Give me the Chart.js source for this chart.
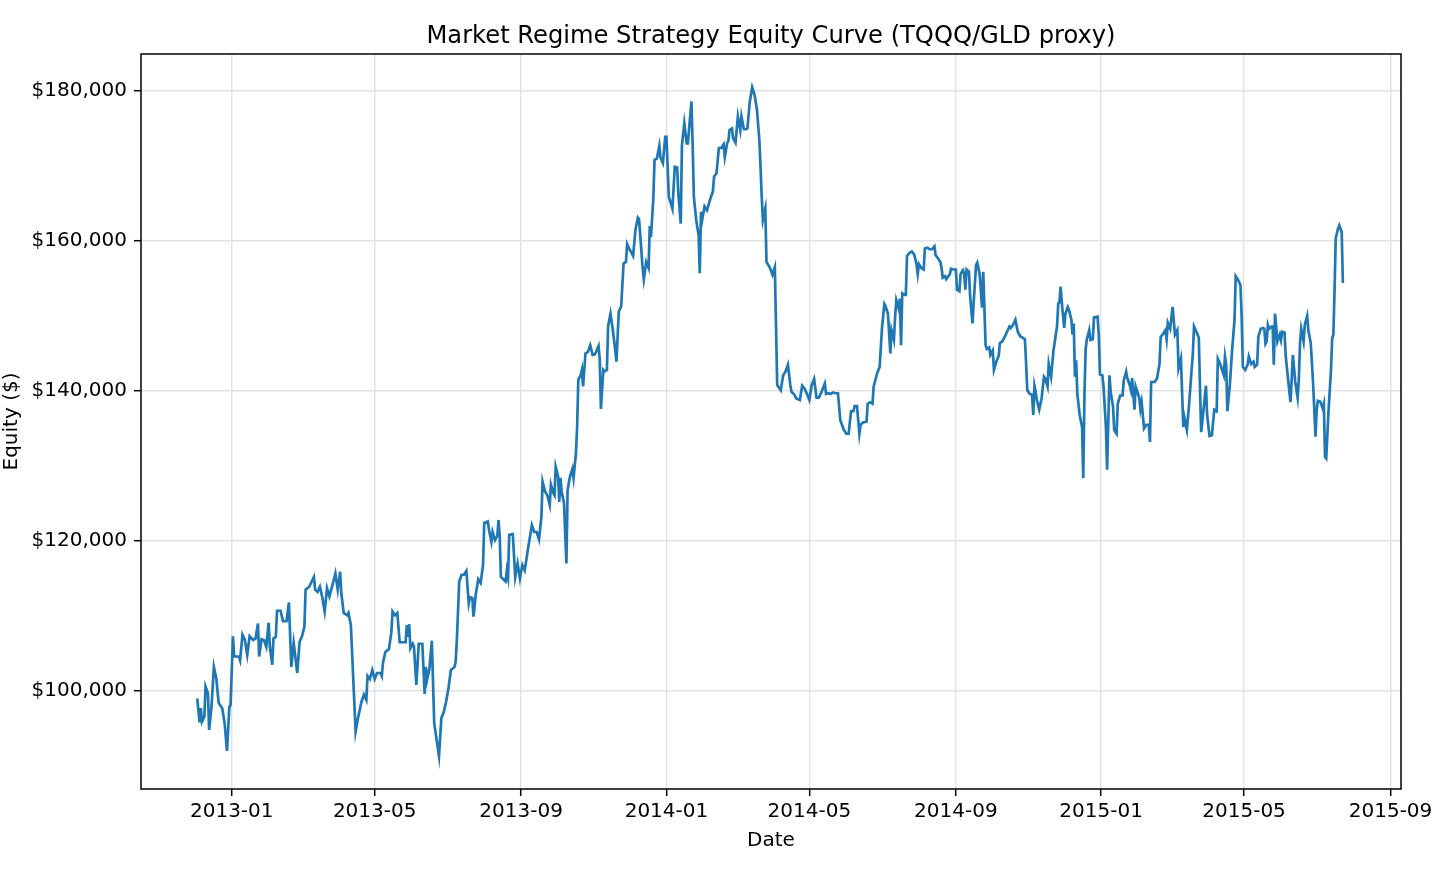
<!DOCTYPE html>
<html>
<head>
<meta charset="utf-8">
<title>Market Regime Strategy Equity Curve</title>
<script src="https://cdn.jsdelivr.net/npm/chart.js@4.4.1/dist/chart.umd.min.js"></script>
<style>
  html, body { margin: 0; padding: 0; background: #fff; }
  #wrap { width: 1456px; height: 874px; }
</style>
</head>
<body>
<div id="wrap"><canvas id="equity-chart" width="1456" height="874"></canvas></div>
<script>
// Equity curve, values
var dates = [
  "2012-12-03","2012-12-05","2012-12-06","2012-12-07","2012-12-09","2012-12-10","2012-12-12","2012-12-13","2012-12-15","2012-12-17","2012-12-19","2012-12-21","2012-12-24","2012-12-26","2012-12-28","2012-12-30","2012-12-31",
  "2013-01-02","2013-01-03","2013-01-07","2013-01-08","2013-01-10","2013-01-12","2013-01-14","2013-01-16","2013-01-19","2013-01-21","2013-01-23","2013-01-24","2013-01-26","2013-01-28","2013-01-30",
  "2013-02-01","2013-02-02","2013-02-04","2013-02-05","2013-02-07","2013-02-08","2013-02-11","2013-02-13","2013-02-16","2013-02-18","2013-02-20","2013-02-22","2013-02-25","2013-02-27",
  "2013-03-01","2013-03-03","2013-03-04","2013-03-07","2013-03-11","2013-03-12","2013-03-14","2013-03-16","2013-03-18","2013-03-20","2013-03-22","2013-03-24","2013-03-27","2013-03-29","2013-03-31",
  "2013-04-02","2013-04-03","2013-04-05","2013-04-08","2013-04-09","2013-04-11","2013-04-15","2013-04-17","2013-04-20","2013-04-22","2013-04-24","2013-04-25","2013-04-27","2013-04-29",
  "2013-05-01","2013-05-03","2013-05-06","2013-05-07","2013-05-08","2013-05-10","2013-05-13","2013-05-15","2013-05-16","2013-05-18","2013-05-20","2013-05-22","2013-05-27","2013-05-28","2013-05-29","2013-05-30","2013-05-31",
  "2013-06-02","2013-06-03","2013-06-05","2013-06-07","2013-06-10","2013-06-12","2013-06-13","2013-06-14","2013-06-16","2013-06-18","2013-06-20","2013-06-24","2013-06-26","2013-06-28","2013-06-30",
  "2013-07-01","2013-07-02","2013-07-04","2013-07-07","2013-07-08","2013-07-09","2013-07-11","2013-07-13","2013-07-15","2013-07-17","2013-07-19","2013-07-20","2013-07-22","2013-07-23","2013-07-25","2013-07-27","2013-07-29","2013-07-31",
  "2013-08-01","2013-08-04","2013-08-05","2013-08-07","2013-08-08","2013-08-10","2013-08-12","2013-08-13","2013-08-14","2013-08-15","2013-08-17","2013-08-19","2013-08-20","2013-08-21","2013-08-22","2013-08-25","2013-08-27","2013-08-29","2013-08-31",
  "2013-09-02","2013-09-04","2013-09-07","2013-09-10","2013-09-12","2013-09-14","2013-09-16","2013-09-18","2013-09-19","2013-09-21","2013-09-23","2013-09-25","2013-09-26","2013-09-28","2013-09-29","2013-09-30",
  "2013-10-02","2013-10-03","2013-10-04","2013-10-05","2013-10-07","2013-10-09","2013-10-10","2013-10-12","2013-10-14","2013-10-15","2013-10-17","2013-10-18","2013-10-19","2013-10-21","2013-10-22","2013-10-23","2013-10-25","2013-10-27","2013-10-29","2013-10-31",
  "2013-11-02","2013-11-05","2013-11-06","2013-11-07","2013-11-09","2013-11-10","2013-11-12","2013-11-13","2013-11-15","2013-11-17","2013-11-19","2013-11-20","2013-11-22","2013-11-24","2013-11-26","2013-11-28","2013-11-29",
  "2013-12-01","2013-12-04","2013-12-06","2013-12-08","2013-12-09","2013-12-12","2013-12-13","2013-12-15","2013-12-17","2013-12-18","2013-12-19","2013-12-21","2013-12-22","2013-12-24","2013-12-26","2013-12-27","2013-12-29","2013-12-31",
  "2014-01-01","2014-01-03","2014-01-06","2014-01-08","2014-01-10","2014-01-11","2014-01-13","2014-01-14","2014-01-16","2014-01-18","2014-01-19","2014-01-22","2014-01-23","2014-01-24","2014-01-26","2014-01-28","2014-01-29","2014-01-30","2014-01-31",
  "2014-02-02","2014-02-04","2014-02-05","2014-02-07","2014-02-09","2014-02-10","2014-02-12","2014-02-14","2014-02-16","2014-02-18","2014-02-19","2014-02-21","2014-02-22","2014-02-23","2014-02-25","2014-02-26","2014-02-28",
  "2014-03-02","2014-03-04","2014-03-05","2014-03-07","2014-03-09","2014-03-10","2014-03-12","2014-03-14","2014-03-16","2014-03-18","2014-03-20","2014-03-21","2014-03-22","2014-03-23","2014-03-25","2014-03-26","2014-03-29","2014-03-31",
  "2014-04-02","2014-04-04","2014-04-07","2014-04-09","2014-04-11","2014-04-13","2014-04-15","2014-04-16","2014-04-18","2014-04-20","2014-04-23","2014-04-25","2014-04-27","2014-04-29",
  "2014-05-01","2014-05-03","2014-05-05","2014-05-07","2014-05-09","2014-05-11","2014-05-14","2014-05-15","2014-05-17","2014-05-19","2014-05-21","2014-05-23","2014-05-25","2014-05-27","2014-05-30",
  "2014-06-01","2014-06-03","2014-06-05","2014-06-07","2014-06-08","2014-06-10","2014-06-12","2014-06-13","2014-06-15","2014-06-18","2014-06-19","2014-06-21","2014-06-23","2014-06-24","2014-06-27","2014-06-29",
  "2014-07-01","2014-07-03","2014-07-04","2014-07-06","2014-07-08","2014-07-09","2014-07-11","2014-07-12","2014-07-13","2014-07-15","2014-07-16","2014-07-17","2014-07-18","2014-07-20","2014-07-21","2014-07-22","2014-07-24","2014-07-26","2014-07-28","2014-07-30","2014-07-31",
  "2014-08-01","2014-08-03","2014-08-05","2014-08-06","2014-08-08","2014-08-10","2014-08-12","2014-08-14","2014-08-15","2014-08-17","2014-08-19","2014-08-20","2014-08-21","2014-08-23","2014-08-24","2014-08-27","2014-08-28","2014-08-30",
  "2014-09-01","2014-09-02","2014-09-04","2014-09-05","2014-09-07","2014-09-08","2014-09-09","2014-09-10","2014-09-12","2014-09-13","2014-09-15","2014-09-16","2014-09-18","2014-09-19","2014-09-21","2014-09-23","2014-09-24","2014-09-26","2014-09-27","2014-09-29","2014-09-30",
  "2014-10-02","2014-10-03","2014-10-05","2014-10-07","2014-10-08","2014-10-10","2014-10-12","2014-10-14","2014-10-16","2014-10-17","2014-10-19","2014-10-21","2014-10-23","2014-10-25","2014-10-27","2014-10-29","2014-10-30","2014-10-31",
  "2014-11-02","2014-11-04","2014-11-05","2014-11-06","2014-11-07","2014-11-08","2014-11-10","2014-11-12","2014-11-14","2014-11-15","2014-11-17","2014-11-18","2014-11-20","2014-11-22","2014-11-24","2014-11-25","2014-11-26","2014-11-27","2014-11-28","2014-11-29",
  "2014-12-01","2014-12-02","2014-12-04","2014-12-05","2014-12-07","2014-12-08","2014-12-09","2014-12-10","2014-12-11","2014-12-12","2014-12-14","2014-12-16","2014-12-17","2014-12-18","2014-12-19","2014-12-20","2014-12-22","2014-12-23","2014-12-25","2014-12-26","2014-12-29","2014-12-30","2014-12-31",
  "2015-01-02","2015-01-03","2015-01-04","2015-01-05","2015-01-06","2015-01-08","2015-01-09","2015-01-11","2015-01-12","2015-01-14","2015-01-15","2015-01-17","2015-01-19","2015-01-20","2015-01-22","2015-01-23","2015-01-25","2015-01-26","2015-01-27","2015-01-28","2015-01-29","2015-01-30","2015-01-31",
  "2015-02-02","2015-02-03","2015-02-04","2015-02-06","2015-02-08","2015-02-10","2015-02-11","2015-02-12","2015-02-15","2015-02-17","2015-02-19","2015-02-20","2015-02-22","2015-02-24","2015-02-25","2015-02-26","2015-02-28",
  "2015-03-02","2015-03-04","2015-03-06","2015-03-07","2015-03-09","2015-03-11","2015-03-12","2015-03-14","2015-03-16","2015-03-17","2015-03-19","2015-03-20","2015-03-22","2015-03-24","2015-03-25","2015-03-26","2015-03-28","2015-03-30","2015-03-31",
  "2015-04-02","2015-04-04","2015-04-06","2015-04-08","2015-04-09","2015-04-11","2015-04-14","2015-04-15","2015-04-16","2015-04-17","2015-04-19","2015-04-21","2015-04-23","2015-04-24","2015-04-26","2015-04-28","2015-04-29","2015-04-30",
  "2015-05-02","2015-05-04","2015-05-05","2015-05-07","2015-05-09","2015-05-10","2015-05-12","2015-05-13","2015-05-15","2015-05-17","2015-05-18","2015-05-19","2015-05-20","2015-05-21","2015-05-22","2015-05-24","2015-05-25","2015-05-26","2015-05-27","2015-05-28","2015-05-29","2015-05-31",
  "2015-06-01","2015-06-02","2015-06-04","2015-06-05","2015-06-07","2015-06-09","2015-06-10","2015-06-11","2015-06-13","2015-06-15","2015-06-16","2015-06-17","2015-06-18","2015-06-20","2015-06-21","2015-06-23","2015-06-24","2015-06-26","2015-06-28","2015-06-30",
  "2015-07-01","2015-07-02","2015-07-04","2015-07-06","2015-07-07","2015-07-08","2015-07-09","2015-07-11","2015-07-13","2015-07-14","2015-07-15","2015-07-16","2015-07-17","2015-07-19","2015-07-20","2015-07-22","2015-07-23"
];

var equity = [
  99000,95800,97700,95900,96600,100600,99700,94800,97900,103200,101700,98400,97700,95700,92000,97900,98100,
  107300,104600,104600,104100,107500,106800,104800,107300,106800,107000,109000,104600,106900,106800,105900,
  109100,105900,103500,107000,107200,110700,110700,109300,109300,111800,103200,106400,102400,106600,
  107300,108600,113500,113900,115200,113500,113200,113900,112500,110600,113700,112600,114400,115700,113500,
  115900,113000,110400,110100,110400,108800,94600,96400,98600,99500,98800,102000,101600,102800,
  101600,102400,102400,102000,103800,105200,105600,107800,110600,110100,110400,106500,106500,108800,107200,108900,105700,
  106300,105900,100800,106300,106300,99600,103200,101500,103000,106700,95700,91300,96400,97200,98600,
  99500,100400,102800,103200,103900,106800,114600,115500,115500,116000,111700,112500,112400,109900,113000,114900,114400,116800,
  122400,122600,121500,119900,121200,120100,120700,122800,120600,115200,114900,114600,116100,115200,120800,120900,115200,117000,115000,
  116800,116100,119200,122100,121200,121200,120200,123200,127900,126600,126100,124800,127500,126400,126100,129900,
  128600,125200,128400,126600,125000,117000,126800,128600,129600,128400,131700,135200,141500,142100,142800,140600,145000,145200,146100,144800,
  144900,146000,144200,137600,142800,142600,142800,148600,150300,148100,145500,143900,150600,151300,157000,157200,159600,
  158900,158000,161500,163100,162900,156400,154900,157200,156400,162000,160500,165700,170800,171000,172700,171100,170400,173900,
  173900,165900,164300,169900,169800,166300,162300,172700,175700,173000,173000,178600,172900,165900,162800,160800,155700,163900,162800,
  164600,164100,164600,165700,166600,168600,169000,172400,172400,172900,171200,173100,173300,174800,175000,173700,173100,
  176600,174800,176600,174900,174900,175000,178600,180500,179500,177500,173500,169900,165900,162800,164300,157200,156400,155500,
  156500,140800,140100,142100,142600,143500,140800,139900,139600,139000,138800,140700,140300,139600,
  138800,140800,141600,139100,139100,139800,141000,139600,139700,139600,139800,139700,139700,136100,134800,
  134300,134300,137300,137300,138000,138000,134300,135500,135800,135900,138300,138500,138300,140600,142400,143200,
  148400,151600,151300,150300,145000,148100,146800,149900,152100,151000,152300,146100,153000,152800,152800,158000,158400,158600,158200,156900,155600,
  156900,156400,156200,159000,159100,158900,158900,159300,158100,157700,157200,156400,155100,155300,154900,155600,156300,156200,
  156200,153500,153300,155600,156100,155600,153500,156200,155900,152600,149000,151900,156800,157100,155600,151100,155900,146100,145600,145800,144800,
  145400,142800,143900,144700,146400,146600,147200,147900,148600,148400,148800,149500,147900,147300,147100,146900,143600,140100,
  139600,139500,136800,140700,139900,138800,137500,139000,141900,141700,140600,143600,141900,145400,147600,148600,151700,151800,153900,151700,
  148400,150300,151200,150800,149500,147500,149000,141900,144100,139600,136800,135200,128400,139600,145600,146900,148100,146800,146900,149800,149900,147600,142200,
  142100,140600,137900,135200,129500,142100,139900,137900,134800,134300,138300,139400,139400,141400,142600,141700,140800,140100,141700,139600,137500,140600,140100,
  139100,137600,138500,135000,135500,135500,133200,141200,141200,141700,143600,147200,147600,148100,146900,149100,148300,
  151200,147500,148100,143000,144300,135200,136400,134800,138500,140700,145000,148600,147900,147100,140600,134500,137500,140700,136800,
  134000,134100,137500,137300,144300,143600,142100,144600,143500,137300,140600,145500,149500,155300,154800,154100,149900,143200,
  142800,143500,144600,143600,143900,143200,143500,147200,148300,148400,148300,146300,146600,148800,148300,148600,148600,143500,150300,148600,146600,147500,
  146800,147900,147800,144600,141500,138500,141500,144800,141200,139100,141500,146400,148300,146600,148800,150000,148100,146400,141000,133900,
  137500,138700,138600,137700,138300,131200,131000,137500,142800,147000,147500,153500,160400,161700,162100,161200,154400
];

// Axis ticks and limits
var xTickLabels = ["2013-01", "2013-05", "2013-09", "2014-01", "2014-05", "2014-09", "2015-01", "2015-05", "2015-09"];
var yTickValues = [100000, 120000, 140000, 160000, 180000];
var xLimits = ["2012-10-16T19:00:00Z", "2015-09-09T19:00:00Z"];
var yLimits = [86930, 184930];
var chartTitle = "Market Regime Strategy Equity Curve (TQQQ/GLD proxy)";

function toTime(s) {
  if (s.length === 7) s = s + "-01";
  return Date.parse(s);
}

var xTickTimes = xTickLabels.map(toTime);

var points = dates.map(function (d, i) {
  return { x: toTime(d), y: equity[i] };
});

Chart.defaults.font.family = "'DejaVu Sans', sans-serif";
Chart.defaults.font.size = 20;
Chart.defaults.color = "#000";

// Black box round the plot area, and the title centred over it
var framePlugin = {
  id: "frame",
  afterDatasetsDraw: function (chart) {
    var a = chart.chartArea;
    var ctx = chart.ctx;
    ctx.save();
    ctx.strokeStyle = "#000";
    ctx.lineWidth = 1.5;
    ctx.strokeRect(a.left, a.top, a.right - a.left, a.bottom - a.top);
    ctx.restore();
  },
  afterDraw: function (chart) {
    var a = chart.chartArea;
    var ctx = chart.ctx;
    ctx.save();
    ctx.fillStyle = "#000";
    ctx.font = "24.2px 'DejaVu Sans', sans-serif";
    ctx.textAlign = "center";
    ctx.textBaseline = "alphabetic";
    ctx.fillText(chartTitle, (a.left + a.right) / 2, 42.5);
    ctx.restore();
  }
};

var ctx = document.getElementById("equity-chart");

var equityChart = new Chart(ctx, {
  type: "line",
  data: {
    datasets: [{
      label: "Equity",
      data: points,
      borderColor: "#1f77b4",
      borderWidth: 2.7,
      pointRadius: 0,
      tension: 0,
      fill: false
    }]
  },
  options: {
    responsive: false,
    animation: false,
    devicePixelRatio: 1,
    layout: { padding: { left: 0, right: 55, top: 54, bottom: 0 } },
    plugins: {
      legend: { display: false },
      tooltip: { enabled: false },
      title: { display: false }
    },
    scales: {
      x: {
        type: "linear",
        min: Date.parse(xLimits[0]),
        max: Date.parse(xLimits[1]),
        afterBuildTicks: function (axis) {
          axis.ticks = xTickTimes.map(function (t) { return { value: t }; });
        },
        afterFit: function (axis) { axis.height = 85; },
        ticks: {
          autoSkip: false,
          maxRotation: 0,
          padding: 4,
          callback: function (value) {
            var i = xTickTimes.indexOf(value);
            return i >= 0 ? xTickLabels[i] : "";
          }
        },
        grid: {
          color: "#e0e2e4",
          lineWidth: 1.4,
          tickLength: 7,
          tickColor: "#000",
          tickWidth: 1.5
        },
        border: { display: false },
        title: {
          display: true,
          text: "Date",
          padding: { top: 0, bottom: 21 }
        }
      },
      y: {
        type: "linear",
        min: yLimits[0],
        max: yLimits[1],
        afterBuildTicks: function (axis) {
          axis.ticks = yTickValues.map(function (v) { return { value: v }; });
        },
        afterFit: function (axis) { axis.width = 141; },
        ticks: {
          padding: 7,
          callback: function (value) {
            return "$" + value.toLocaleString("en-US");
          }
        },
        grid: {
          color: "#e0e2e4",
          lineWidth: 1.4,
          tickLength: 7,
          tickColor: "#000",
          tickWidth: 1.5
        },
        border: { display: false },
        title: {
          display: true,
          text: "Equity ($)",
          padding: { top: 0, bottom: 0 }
        }
      }
    }
  },
  plugins: [framePlugin]
});
</script>
</body>
</html>
